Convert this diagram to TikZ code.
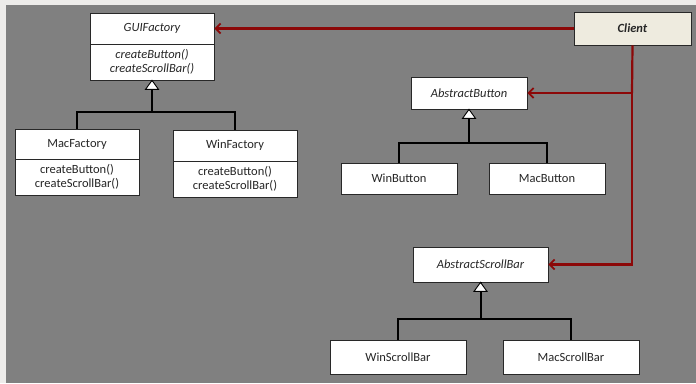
\documentclass[tikz,border=0pt]{standalone}
\usepackage{fontspec}
\setmainfont{Carlito}
\usetikzlibrary{arrows.meta,shadows}
\definecolor{pagebg}{RGB}{237,236,234}
\definecolor{canvas}{RGB}{128,128,128}
\definecolor{assoc}{RGB}{140,8,8}
\definecolor{clientfill}{RGB}{238,235,223}
\definecolor{border}{RGB}{40,40,40}
\definecolor{shade}{RGB}{75,75,75}
\tikzset{
  umlbox/.style={draw=border, line width=0.8pt, fill=white, inner sep=0pt,
    align=center, text=black!85, font=\fontsize{12.5}{14.5}\selectfont,
    drop shadow={shadow xshift=1.2pt, shadow yshift=-1.2pt, fill=shade}},
  abstract/.style={font=\fontsize{12.5}{14.5}\selectfont\itshape},
  clientbox/.style={umlbox, fill=clientfill, font=\fontsize{12.5}{14.5}\selectfont\bfseries\itshape},
  bar/.style={line width=2pt, black},
  gentri/.style={draw=black, line width=0.9pt, fill=white, line join=miter},
  uses/.style={line width=2.2pt, assoc,
    -{Straight Barb[length=5pt, width=10pt, line width'=1.8pt]}},
  usesline/.style={line width=2.2pt, assoc},
}
\begin{document}
\begin{tikzpicture}[x=1pt, y=-1pt]
  % page and canvas
  \fill[pagebg] (0,0) rectangle (696,383);
  \fill[canvas] (6,5) rectangle (696,383);
  \useasboundingbox (0,0) rectangle (696,383);

  % abstract factory
  \node[umlbox, abstract, minimum width=124pt, minimum height=31pt] (gui) at (152,28.5) {GUIFactory};
  \node[umlbox, abstract, minimum width=124pt, minimum height=36pt] (guiops) at (152,62) {createButton()\\createScrollBar()};

  % concrete factories
  \node[umlbox, minimum width=124pt, minimum height=30pt] (macf) at (77,144) {MacFactory};
  \node[umlbox, minimum width=124pt, minimum height=36pt] (macops) at (77,177) {createButton()\\createScrollBar()};
  \node[umlbox, minimum width=124pt, minimum height=31pt] (winf) at (235,145.5) {WinFactory};
  \node[umlbox, minimum width=124pt, minimum height=36pt] (winops) at (235,179) {createButton()\\createScrollBar()};

  % client
  \node[clientbox, minimum width=117pt, minimum height=33pt] (client) at (632.5,28.5) {Client};

  % buttons
  \node[umlbox, abstract, minimum width=116pt, minimum height=32pt] (absb) at (469,93) {AbstractButton};
  \node[umlbox, minimum width=116pt, minimum height=31pt] (winb) at (399,178.5) {WinButton};
  \node[umlbox, minimum width=116pt, minimum height=31pt] (macb) at (547,178.5) {MacButton};

  % scroll bars
  \node[umlbox, abstract, minimum width=135pt, minimum height=35pt] (abss) at (480.5,264.5) {AbstractScrollBar};
  \node[umlbox, minimum width=136pt, minimum height=34pt] (winsb) at (398,357) {WinScrollBar};
  \node[umlbox, minimum width=136pt, minimum height=34pt] (macsb) at (571,357) {MacScrollBar};

  % junction points
  \coordinate (jf) at (152,112);
  \coordinate (jb) at (469,143);
  \coordinate (js) at (480.5,319);
  \coordinate (jc) at (632,93);
  \coordinate (jcs) at (632,264.5);

  % generalisation connectors: branches, stem, hollow triangle at the parent
  \draw[bar] (macf.north) |- (jf) -| (winf.north);
  \draw[bar] (jf) -- (guiops.south);
  \draw[gentri] (guiops.south) -- ++(-6.5,9) -- ++(13,0) -- cycle;

  \draw[bar] (winb.north) |- (jb) -| (macb.north);
  \draw[bar] (jb) -- (absb.south);
  \draw[gentri] (absb.south) -- ++(-6.5,9) -- ++(13,0) -- cycle;

  \draw[bar] (winsb.north) |- (js) -| (macsb.north);
  \draw[bar] (js) -- (abss.south);
  \draw[gentri] (abss.south) -- ++(-6.5,9) -- ++(13,0) -- cycle;

  % client associations
  \draw[uses] (client.west) -- (gui.east);
  \draw[usesline] (client.south) -- (jc);
  \draw[uses] (jc) -- (absb.east);
  \draw[uses, rounded corners=0pt] (jc) |- (abss.east);
\end{tikzpicture}
\end{document}
